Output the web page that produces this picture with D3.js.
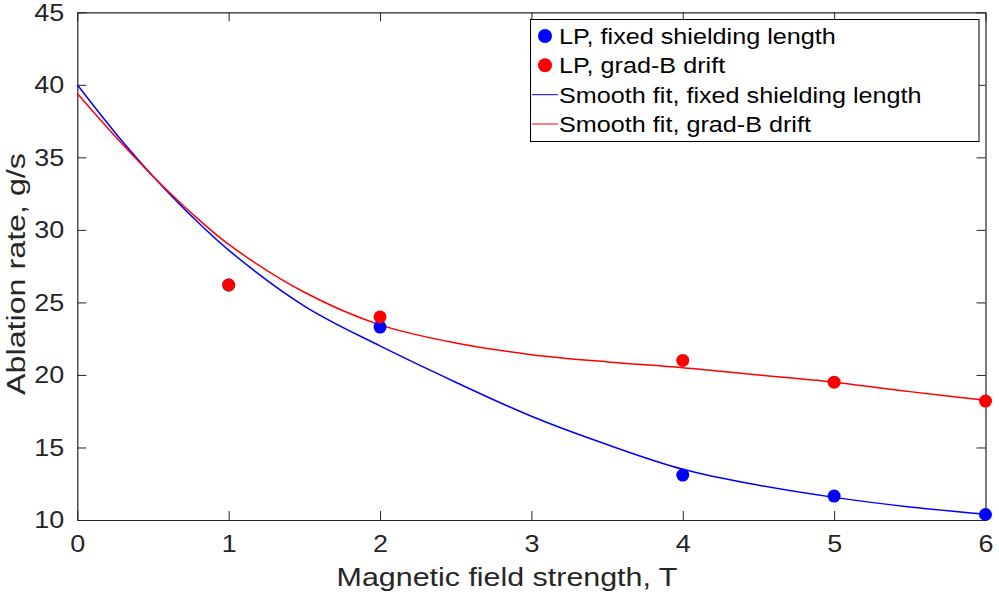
<!DOCTYPE html>
<html>
<head>
<meta charset="utf-8">
<script src="https://cdn.jsdelivr.net/npm/d3@7"></script>
<style>
  html, body { margin: 0; padding: 0; background: #fff; }
  svg { display: block; font-family: "Liberation Sans", Arial, Helvetica, sans-serif; }
</style>
</head>
<body>
<svg id="chart" width="999" height="599"></svg>
<script>
// Measured ablation rates (g/s) versus magnetic field strength (T)
const fieldLP = [1, 2, 4, 5, 6];
const rateFixed = [26.2, 23.3, 13.1, 11.65, 10.38];
const rateGradB = [26.2, 24.0, 21.0, 19.5, 18.2];

// Smooth-fit curves, sampled along the field axis
const fitField = [0, 0.25, 0.5, 0.75, 1.0, 1.5, 2.0, 2.5, 3.0, 3.5, 4.0, 4.5, 5.0, 5.5, 6.0];
const fitFixed = [40.0, 36.7, 33.7, 31.0, 28.6, 24.75, 22.0, 19.5, 17.15, 15.2, 13.5, 12.4, 11.56, 10.9, 10.4];
const fitGradB = [39.4, 36.45, 33.7, 31.2, 29.0, 25.7, 23.45, 22.2, 21.4, 20.9, 20.5, 20.0, 19.5, 18.85, 18.25];

const xTicks = [0, 1, 2, 3, 4, 5, 6];
const yTicks = [10, 15, 20, 25, 30, 35, 40, 45];

const legendLabels = [
  "LP, fixed shielding length",
  "LP, grad-B drift",
  "Smooth fit, fixed shielding length",
  "Smooth fit, grad-B drift"
];

const BLUE = "#0000ff", RED = "#ff0000", AXIS = "#262626";
const FONT = "Liberation Sans, Arial, sans-serif";

const svg = d3.select("#chart");
const plot = { left: 77.3, right: 985.5, top: 12.3, bottom: 520 };

const x = d3.scaleLinear().domain([0, 6]).range([plot.left, plot.right]);
const y = d3.scaleLinear().domain([10, 45]).range([plot.bottom, plot.top]);

const tickLen = 9;
const tickFont = 24.5, tickStretch = 1.1;

// Axes: inward ticks on all four sides (box style)
const axisBottom = d3.axisBottom(x).tickValues(xTicks).tickFormat(d3.format("d"))
  .tickSizeInner(-tickLen).tickSizeOuter(0).tickPadding(15);
const axisTop = d3.axisTop(x).tickValues(xTicks).tickSizeInner(-tickLen).tickSizeOuter(0).tickFormat("");
const axisLeft = d3.axisLeft(y).tickValues(yTicks).tickFormat(d3.format("d"))
  .tickSizeInner(-tickLen).tickSizeOuter(0).tickPadding(13);
const axisRight = d3.axisRight(y).tickValues(yTicks).tickSizeInner(-tickLen).tickSizeOuter(0).tickFormat("");

function styleAxis(g) {
  g.select(".domain").attr("stroke", AXIS).attr("stroke-width", 1.2);
  g.selectAll(".tick line").attr("stroke", AXIS).attr("stroke-width", 1);
  g.selectAll(".tick text").attr("fill", AXIS).attr("font-size", tickFont).attr("font-family", FONT);
}

svg.append("g").attr("transform", `translate(0,${plot.bottom})`).call(axisBottom).call(styleAxis)
  .selectAll(".tick text").attr("transform", `scale(${tickStretch},1)`);
svg.append("g").attr("transform", `translate(0,${plot.top})`).call(axisTop).call(styleAxis);
svg.append("g").attr("transform", `translate(${plot.left},0)`).call(axisLeft).call(styleAxis)
  .selectAll(".tick text")
  .attr("x", 0)
  .attr("transform", `translate(-13,0) scale(${tickStretch},1)`);
svg.append("g").attr("transform", `translate(${plot.right},0)`).call(axisRight).call(styleAxis);

// Fitted curves
const line = d3.line().x(d => x(d[0])).y(d => y(d[1])).curve(d3.curveCatmullRom.alpha(0.5));
svg.append("path")
  .datum(fitField.map((f, i) => [f, fitFixed[i]]))
  .attr("d", line).attr("fill", "none").attr("stroke", BLUE).attr("stroke-width", 1.5);
svg.append("path")
  .datum(fitField.map((f, i) => [f, fitGradB[i]]))
  .attr("d", line).attr("fill", "none").attr("stroke", RED).attr("stroke-width", 1.5);

// Measured points
svg.append("g").selectAll("circle")
  .data(fieldLP.map((f, i) => [f, rateFixed[i]]))
  .join("circle")
  .attr("cx", d => x(d[0])).attr("cy", d => y(d[1])).attr("r", 6.5).attr("fill", BLUE);
svg.append("g").selectAll("circle")
  .data(fieldLP.map((f, i) => [f, rateGradB[i]]))
  .join("circle")
  .attr("cx", d => x(d[0])).attr("cy", d => y(d[1])).attr("r", 6.5).attr("fill", RED);

// Axis titles
svg.append("text")
  .attr("transform", "translate(507,586) scale(1.17,1)")
  .attr("text-anchor", "middle").attr("font-size", 26).attr("fill", AXIS)
  .text("Magnetic field strength, T");
svg.append("text")
  .attr("transform", "translate(25,274) rotate(-90) scale(1.24,1)")
  .attr("text-anchor", "middle").attr("font-size", 26).attr("fill", AXIS)
  .text("Ablation rate, g/s");

// Legend
const legend = svg.append("g");
legend.append("rect")
  .attr("x", 530.5).attr("y", 19.5).attr("width", 448.5).attr("height", 122)
  .attr("fill", "#fff").attr("stroke", "#000").attr("stroke-width", 1);
const rowY = [36, 65.3, 94.7, 124];
const legendStyles = [
  { type: "dot", color: BLUE },
  { type: "dot", color: RED },
  { type: "line", color: BLUE },
  { type: "line", color: RED }
];
legendLabels.forEach((label, i) => {
  const s = legendStyles[i];
  if (s.type === "dot") {
    legend.append("circle").attr("cx", 545).attr("cy", rowY[i]).attr("r", 7).attr("fill", s.color);
  } else {
    legend.append("line").attr("x1", 532).attr("x2", 558).attr("y1", rowY[i]).attr("y2", rowY[i])
      .attr("stroke", s.color).attr("stroke-width", 1);
  }
  legend.append("text")
    .attr("transform", `translate(559,${rowY[i]}) scale(1.12,1)`)
    .attr("dy", "0.36em")
    .attr("font-size", 22.5).attr("fill", "#000")
    .text(label);
});
</script>
</body>
</html>
